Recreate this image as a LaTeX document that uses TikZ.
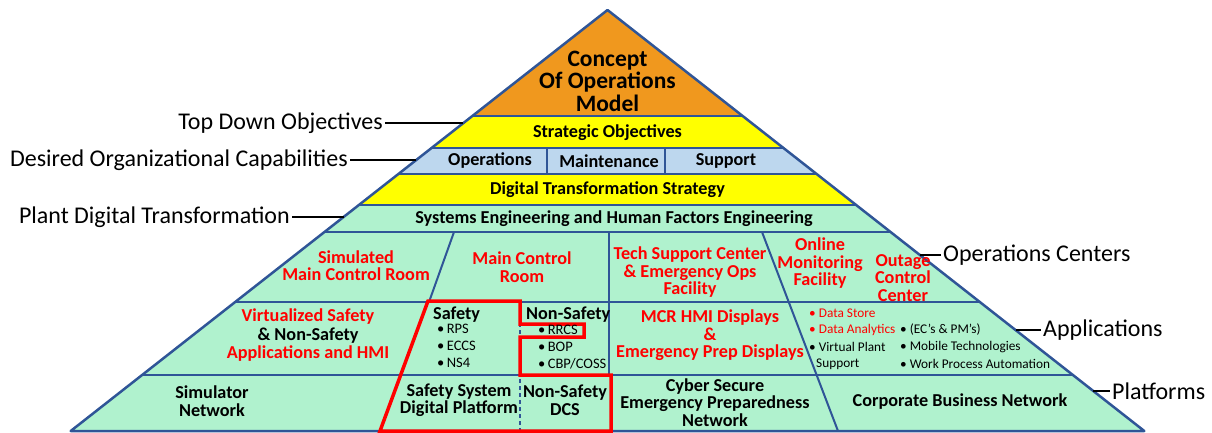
\documentclass[tikz,border=0pt]{standalone}
\usepackage{fontspec}
\setmainfont{Carlito}
\usepackage{tikz}
\usetikzlibrary{positioning, calc}
\definecolor{pyrblue}{HTML}{2F5597}
\definecolor{pyrorange}{HTML}{F0981E}
\definecolor{pyryellow}{HTML}{FFFF00}
\definecolor{pyrsky}{HTML}{BDD7EE}
\definecolor{pyrgreen}{HTML}{B0F2CE}
\definecolor{pyrred}{HTML}{FF0000}
\newcommand{\fsz}[2]{\fontsize{#1}{#2}\selectfont}

\begin{document}
\begin{tikzpicture}[x=1pt, y=-1pt,
    divider/.style={pyrblue, line width=2pt},
    lvl/.style={font=\bfseries\fsz{18.2}{17.5}, align=center, inner sep=0pt},
    ops/.style={lvl, text=pyrred},
    item/.style={font=\fsz{14.5}{16}, anchor=west, inner sep=0pt},
    small/.style={font=\fsz{13.3}{14}, anchor=west, inner sep=0pt},
    side/.style={font=\fsz{24}{26}, inner sep=2pt},
    tick/.style={line width=2.5pt},
  ]

  \useasboundingbox (0,0) rectangle (1212,432);

  % --- pyramid corners ---
  \coordinate (apex) at (607.5,10);
  \coordinate (bl) at (70.7,431);
  \coordinate (br) at (1144.3,431);

  % --- bands ---
  \begin{scope}
    \clip (apex) -- (bl) -- (br) -- cycle;
    \fill[pyrgreen]  (0,0)   rectangle (1212,432);
    \fill[pyrorange] (0,0)   rectangle (1212,116);
    \fill[pyryellow] (0,116) rectangle (1212,148);
    \fill[pyrsky]    (0,148) rectangle (1212,174);
    \fill[pyryellow] (0,174) rectangle (1212,205);
    \foreach \y in {116,148,174,205,232,302,375}
      \draw[divider] (0,\y) -- (1212,\y);
  \end{scope}

  % --- cell dividers ---
  \draw[divider] (547,148) -- (547,174);
  \draw[divider] (665,148) -- (665,174);
  \draw[divider] (454,232) -- (429,302);
  \draw[divider] (609,232) -- (609,375);
  \draw[divider] (762,232) -- (838,431);
  \draw[divider, dash pattern=on 4pt off 3pt] (520,302) -- (520,431);

  \draw[pyrblue, line width=2.5pt, line join=round] (apex) -- (bl) -- (br) -- cycle;

  % --- safety / non-safety outline ---
  \draw[pyrred, line width=3.5pt]
    (428,301) -- (520,301) -- (520,324) -- (584,324) -- (584,337) -- (520,337)
    -- (520,375) -- (611,375) -- (611,431) -- (380,431) -- cycle;

  % --- top levels ---
  \node[lvl, font=\bfseries\fsz{23.5}{22.5}] (concept) at (607.5,81) {Concept\\Of Operations\\Model};
  \node[lvl] (strat) at (607.5,133) {Strategic Objectives};
  \node[lvl] (oper)  at (490,161) {Operations};
  \node[lvl] (maint) at (609,161) {Maintenance};
  \node[lvl] (supp)  at (726,161) {Support};
  \node[lvl] (dts)   at (607.5,190) {Digital Transformation Strategy};
  \node[lvl] (syseng) at (614,219) {Systems Engineering and Human Factors Engineering};

  % --- operations centers ---
  \node[ops] (simmcr) at (356,265.5) {Simulated\\Main Control Room};
  \node[ops] (mcr)    at (522,267)   {Main Control\\Room};
  \node[ops] (tsc)    at (690,272.5) {Tech Support Center\\\& Emergency Ops\\Facility};
  \node[ops] (omf)    at (820,263.5) {Online\\Monitoring\\Facility};
  \node[ops] (occ)    at (903,278)   {Outage\\Control\\Center};

  % --- applications ---
  \node[ops, font=\bfseries\fsz{18.2}{18.5}] (virt) at (308,335.5)
    {Virtualized Safety\\\textcolor{black}{\& Non-Safety}\\Applications and HMI};
  \node[lvl, anchor=west] (safety)  at (433,315) {Safety};
  \foreach \t [count=\i] in {RPS, ECCS, NS4}
    \node[item] (sf\i) at (437,312+17*\i) {\textbullet\,\t};
  \node[lvl, anchor=west] (nsafety) at (526,315) {Non-Safety};
  \foreach \t [count=\i] in {RRCS, BOP, CBP/COSS}
    \node[item] (ns\i) at (538,313+17*\i) {\textbullet\,\t};
  \node[ops] (hmi) at (710,335.5) {MCR HMI Displays\\\&\\Emergency Prep Displays};
  \node[small, text=pyrred] (ds1) at (809,313) {\textbullet\ Data Store};
  \node[small, text=pyrred] (ds2) at (809,330) {\textbullet\ Data Analytics};
  \node[small] (ds3) at (809,347) {\textbullet\ Virtual Plant};
  \node[small] (ds4) at (816,364) {Support};
  \node[small] (ec1) at (900,330) {\textbullet\ (EC’s \& PM’s)};
  \node[small] (ec2) at (900,347) {\textbullet\ Mobile Technologies};
  \node[small] (ec3) at (900,364) {\textbullet\ Work Process Automation};

  % --- platforms ---
  \node[lvl] (simnet) at (212,401)   {Simulator\\Network};
  \node[lvl] (sfplat) at (459,400)   {Safety System\\Digital Platform};
  \node[lvl] (dcs)    at (565,400)   {Non-Safety\\DCS};
  \node[lvl] (cyber)  at (715,402.5) {Cyber Secure\\Emergency Preparedness\\Network};
  \node[lvl] (corp)   at (960,402)   {Corporate Business Network};

  % --- side labels ---
  \coordinate (eTop)  at (463.4,123);
  \coordinate (eCap)  at (416.3,160);
  \coordinate (ePlant) at (343.6,217);
  \coordinate (eOps)  at (919.9,255);
  \coordinate (eApp)  at (1015.5,330);
  \coordinate (ePlat) at (1093.3,391);
  \node[side, anchor=east] (lTop)   at (385,123) {Top Down Objectives};
  \node[side, anchor=east] (lCap)   at (350,160) {Desired Organizational Capabilities};
  \node[side, anchor=east] (lPlant) at (292,217) {Plant Digital Transformation};
  \node[side, anchor=west] (lOps)   at (941,255) {Operations Centers};
  \node[side, anchor=west] (lApp)   at (1041,330) {Applications};
  \node[side, anchor=west] (lPlat)  at (1110,391) {Platforms};
  \draw[tick] (lTop) -- (eTop);
  \draw[tick] (lCap) -- (eCap);
  \draw[tick] (lPlant) -- (ePlant);
  \draw[tick] (eOps) -- (lOps);
  \draw[tick] (eApp) -- (lApp);
  \draw[tick] (ePlat) -- (lPlat);

\end{tikzpicture}
\end{document}
